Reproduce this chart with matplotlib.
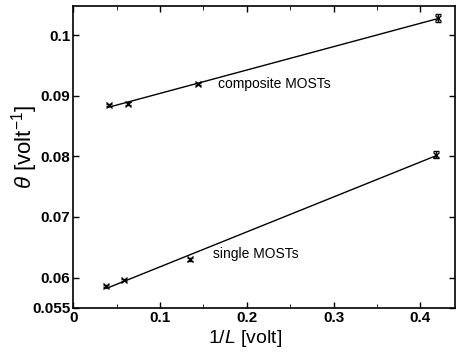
import numpy as np
import matplotlib
matplotlib.use("Agg")
import matplotlib.pyplot as plt
from matplotlib.ticker import MultipleLocator

plt.rcParams['font.family'] = ['Liberation Sans', 'DejaVu Sans']
plt.rcParams['mathtext.fontset'] = 'custom'
plt.rcParams['mathtext.it'] = 'Liberation Sans:italic'
plt.rcParams['mathtext.rm'] = 'Liberation Sans'

# data
comp_x = [0.041, 0.063, 0.144, 0.420]
comp_y = [0.0885, 0.0887, 0.0919, 0.1028]
comp_err = [0.0002, 0.0002, 0.0002, 0.0007]

single_x = [0.038, 0.059, 0.135, 0.418]
single_y = [0.0586, 0.0596, 0.0630, 0.0803]
single_err = [0.0002, 0.0002, 0.0003, 0.0006]

x_ticks = [0, 0.1, 0.2, 0.3, 0.4]
x_tick_labels = ['0', '0.1', '0.2', '0.3', '0.4']
y_ticks = [0.055, 0.06, 0.07, 0.08, 0.09, 0.1]
y_tick_labels = ['0.055', '0.06', '0.07', '0.08', '0.09', '0.1']

fig = plt.figure(figsize=(4.63, 3.58), dpi=100)
ax = fig.add_axes([0.158, 0.140, 0.825, 0.843])

for xs, ys, es in [(comp_x, comp_y, comp_err), (single_x, single_y, single_err)]:
    ax.errorbar(xs, ys, yerr=es, fmt='x', color='black', markersize=4,
                capsize=2.5, elinewidth=1, mew=1)
    p = np.polyfit(xs, ys, 1)
    xf = np.array([min(xs), max(xs)])
    ax.plot(xf, np.polyval(p, xf), color='black', lw=1)

ax.text(0.167, 0.0919, 'composite MOSTs', fontsize=10, va='center')
ax.text(0.161, 0.0639, 'single MOSTs', fontsize=10, va='center')

ax.set_xlim(0, 0.44)
ax.set_ylim(0.055, 0.1048)
ax.set_xticks(x_ticks)
ax.set_xticklabels(x_tick_labels, fontsize=11, fontweight='bold')
ax.set_yticks(y_ticks)
ax.set_yticklabels(y_tick_labels, fontsize=11, fontweight='bold')
ax.xaxis.set_minor_locator(MultipleLocator(0.05))
ax.tick_params(direction='in', top=True, right=True, length=4, width=1, pad=2)
ax.tick_params(which='minor', direction='in', top=True, right=False, length=3)
for s in ax.spines.values():
    s.set_linewidth(1.2)

ax.set_xlabel(r'1/$\mathit{L}$ [volt]', fontsize=14)
ax.xaxis.set_label_coords(0.45, -0.068)
ax.set_ylabel(r'$\theta$ [volt$^{-1}$]', fontsize=16)
ax.yaxis.set_label_coords(-0.088, 0.533)

fig.savefig('out.png', dpi=100)
